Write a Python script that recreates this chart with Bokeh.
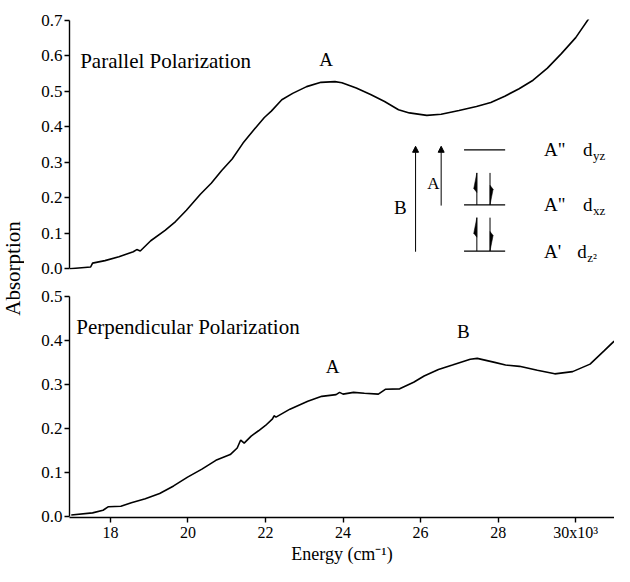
import numpy as np
from bokeh.plotting import figure
from bokeh.layouts import row, column
from bokeh.models import Range1d, FixedTicker, NumeralTickFormatter, Label, Arrow, NormalHead
from bokeh.embed import file_html
from bokeh.resources import INLINE

# ---------------- data (energy in 10^3 cm^-1) ----------------
par_energy = [16.95, 17.49, 17.54, 17.86, 18.22, 18.59, 18.68, 18.77, 19.04, 19.41,
              19.68, 19.96, 20.32, 20.60, 20.87, 21.14, 21.42, 21.69, 21.97, 22.15,
              22.42, 22.70, 23.06, 23.43, 23.79, 23.97, 24.34, 24.71, 25.07, 25.43,
              25.71, 26.16, 26.53, 26.99, 27.44, 27.81, 28.17, 28.54, 28.90, 29.27,
              29.63, 30.00, 30.34]
par_abs = [0.000, 0.005, 0.016, 0.023, 0.034, 0.048, 0.054, 0.050, 0.079, 0.108,
           0.133, 0.165, 0.210, 0.241, 0.277, 0.309, 0.354, 0.390, 0.426, 0.444,
           0.476, 0.494, 0.513, 0.525, 0.527, 0.524, 0.509, 0.491, 0.471, 0.448,
           0.439, 0.432, 0.435, 0.446, 0.457, 0.468, 0.486, 0.507, 0.531, 0.565,
           0.606, 0.651, 0.705]

perp_energy = [16.99, 17.54, 17.81, 17.95, 18.27, 18.54, 18.90, 19.27, 19.63, 19.99,
               20.36, 20.72, 21.09, 21.27, 21.36, 21.45, 21.63, 21.82, 22.00, 22.18,
               22.22, 22.27, 22.63, 23.09, 23.45, 23.82, 23.91, 24.00, 24.27, 24.55,
               24.91, 25.09, 25.46, 25.82, 26.09, 26.46, 26.82, 27.28, 27.46, 27.91,
               28.19, 28.55, 29.01, 29.46, 29.92, 30.37, 30.73, 30.99]
perp_abs = [0.004, 0.009, 0.015, 0.023, 0.024, 0.032, 0.041, 0.053, 0.070, 0.090,
            0.108, 0.128, 0.141, 0.156, 0.174, 0.167, 0.183, 0.195, 0.207, 0.222,
            0.229, 0.226, 0.244, 0.262, 0.273, 0.277, 0.282, 0.278, 0.282, 0.280,
            0.278, 0.289, 0.290, 0.305, 0.319, 0.334, 0.344, 0.357, 0.359, 0.350,
            0.344, 0.341, 0.332, 0.324, 0.329, 0.346, 0.376, 0.398]

x_ticks = [18, 20, 22, 24, 26, 28, 30]
x_tick_labels = ["18", "20", "22", "24", "26", "28", "30x10\u00b3"]
par_ticks = [0.0, 0.1, 0.2, 0.3, 0.4, 0.5, 0.6, 0.7]
perp_ticks = [0.0, 0.1, 0.2, 0.3, 0.4, 0.5]

SERIF = "Liberation Serif"
x_range = Range1d(16.945, 31.0)


def style_y(p, ticks):
    ax = p.yaxis[0]
    ax.ticker = FixedTicker(ticks=ticks)
    ax.formatter = NumeralTickFormatter(format="0.0")
    ax.axis_line_width = 1.4
    ax.major_tick_line_width = 1.4
    ax.major_tick_out = 5
    ax.major_tick_in = 0
    ax.minor_tick_out = 0
    ax.minor_tick_in = 0
    ax.major_label_text_font = SERIF
    ax.major_label_text_font_size = "17px"
    ax.major_label_text_color = "black"
    ax.major_label_standoff = 2
    ax.bounds = (ticks[0], ticks[-1])


def txt(p, x, y, s, size="21px", align="left", xo=0, yo=0):
    p.add_layout(Label(x=x, y=y, text=s, text_font=SERIF, text_font_size=size,
                       text_align=align, text_baseline="middle", x_offset=xo, y_offset=yo,
                       text_color="black"))


# ---------------- top panel: parallel ----------------
p1 = figure(width=590, height=283, x_range=x_range, y_range=Range1d(-0.002, 0.702),
            x_axis_location=None, toolbar_location=None, output_backend="svg",
            min_border_left=45, min_border_right=0, min_border_top=19, min_border_bottom=14)
p1.outline_line_color = None
p1.grid.visible = False
style_y(p1, par_ticks)
p1.line(par_energy, par_abs, line_color="black", line_width=1.6)
txt(p1, 17.22, 0.585, "Parallel Polarization")
txt(p1, 23.56, 0.589, "A", size="19px", align="center")

# inset energy level diagram (layout positions in top-panel data units)
for xa_, ya_ in [(25.87, 0.048), (26.53, 0.178)]:
    p1.add_layout(Arrow(end=NormalHead(size=6, fill_color="black", line_color="black"),
                        x_start=xa_, y_start=ya_, x_end=xa_, y_end=0.345,
                        line_width=1, line_color="black"))
txt(p1, 25.48, 0.174, "B", size="19px", align="center")
txt(p1, 26.33, 0.241, "A", size="17px", align="center")
levels = [0.335, 0.180, 0.050]
p1.segment(x0=[27.12] * 3, y0=levels, x1=[28.18] * 3, y1=levels, line_color="black", line_width=1.2)
xu, xd, w, h = 27.45, 27.79, 0.08, 0.055
pairs = [(0.180, 0.270), (0.050, 0.144)]
for lo, hi in pairs:
    p1.segment(x0=[xu, xd], y0=[lo, lo], x1=[xu, xd], y1=[hi, hi], line_color="black", line_width=1)
    p1.patch([xu, xu - w, xu], [hi, hi - 0.8 * h, hi - h], fill_color="black", line_color="black", line_width=0.5)
    p1.patch([xd, xd + w, xd], [lo, lo + 0.8 * h, lo + h], fill_color="black", line_color="black", line_width=0.5)
state_sym = ['A"', 'A"', "A'"]
orb_sub = ["yz", "xz", "z\u00b2"]
d_x = [30.19, 30.19, 30.04]
for yl, s, sub, dx in zip(levels, state_sym, orb_sub, d_x):
    txt(p1, 29.18, yl, s, size="19px")
    txt(p1, dx, yl, "d", size="19px")
    txt(p1, dx, yl, sub, size="13px", xo=10, yo=-6)

# ---------------- bottom panel: perpendicular ----------------
p2 = figure(width=590, height=283, x_range=x_range, y_range=Range1d(-0.0015, 0.5015),
            toolbar_location=None, output_backend="svg",
            min_border_left=45, min_border_right=0, min_border_top=12, min_border_bottom=48)
p2.outline_line_color = None
p2.grid.visible = False
style_y(p2, perp_ticks)
xa = p2.xaxis[0]
xa.ticker = FixedTicker(ticks=x_ticks)
xa.major_label_overrides = {t: lab for t, lab in zip(x_ticks, x_tick_labels)}
xa.axis_line_width = 1.4
xa.major_tick_line_width = 1.4
xa.major_tick_out = 5
xa.major_tick_in = 0
xa.minor_tick_out = 0
xa.minor_tick_in = 0
xa.major_label_text_font = SERIF
xa.major_label_text_font_size = "16px"
xa.major_label_text_color = "black"
xa.major_label_standoff = 1
xa.axis_label = "Energy (cm\u207b\u00b9)"
xa.axis_label_text_font = SERIF
xa.axis_label_text_font_size = "18px"
xa.axis_label_text_font_style = "normal"
xa.axis_label_text_color = "black"
xa.axis_label_standoff = 0
p2.line(perp_energy, perp_abs, line_color="black", line_width=1.6)
txt(p2, 17.12, 0.43, "Perpendicular Polarization")
txt(p2, 23.73, 0.341, "A", size="19px", align="center")
txt(p2, 27.10, 0.420, "B", size="19px", align="center")

# ---------------- shared y-axis title ----------------
lab = figure(width=24, height=566, x_range=Range1d(0, 24), y_range=Range1d(0, 566),
             x_axis_location=None, y_axis_location=None, toolbar_location=None,
             output_backend="svg", min_border=0, min_border_left=0, min_border_right=0,
             min_border_top=0, min_border_bottom=0)
lab.outline_line_color = None
lab.grid.visible = False
lab.add_layout(Label(x=12, y=298, text="Absorption", angle=np.pi / 2, text_font=SERIF,
                     text_font_size="21px", text_align="center", text_baseline="middle",
                     text_color="black"))

layout = row(lab, column(p1, p2))
open("out.html", "w").write(file_html(layout, INLINE))
